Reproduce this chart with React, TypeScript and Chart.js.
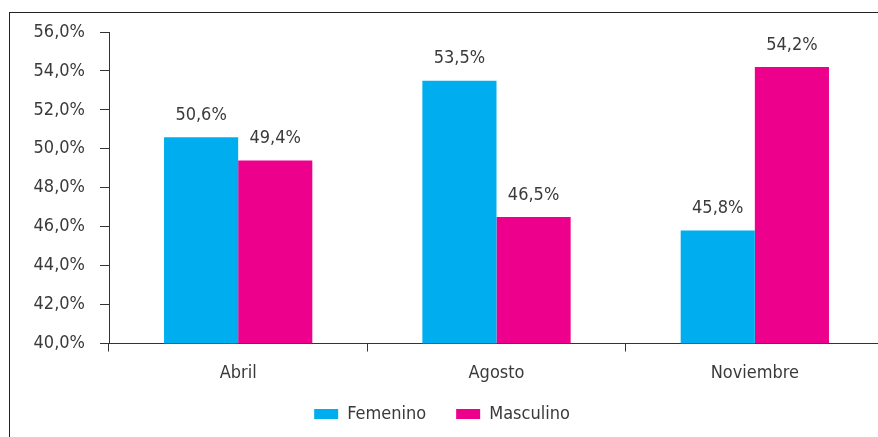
import React, { useEffect, useRef } from "react";
import { Chart, registerables } from "chart.js";

Chart.register(...registerables);

const categories = ["Abril", "Agosto", "Noviembre"];
const femenino = [50.6, 53.5, 45.8];
const masculino = [49.4, 46.5, 54.2];
const seriesNames = ["Femenino", "Masculino"];
const yMin = 40;
const yMax = 56;
const yStep = 2;

const FONT = "'Liberation Sans Narrow', 'DejaVu Sans Condensed', 'Roboto Condensed', sans-serif";
const FS = 18;
const TEXT = "#3a3a3a";
const AXIS = "#333333";
const LEG_PAD = 30;

const fmt = (v: number) => v.toFixed(1).replace(".", ",") + "%";

const valueLabels = {
  id: "valueLabels",
  afterLayout(chart: any) {
    const x = chart.scales.x;
    if (x) x.bottom = x.top + 60;
  },
  afterDatasetsDraw(chart: any) {
    const ctx = chart.ctx;
    ctx.save();
    ctx.font = `${FS}px ${FONT}`;
    ctx.fillStyle = TEXT;
    ctx.textAlign = "center";
    ctx.textBaseline = "middle";
    chart.data.datasets.forEach((ds: any, i: number) => {
      const meta = chart.getDatasetMeta(i);
      meta.data.forEach((bar: any, j: number) => {
        ctx.fillText(fmt(ds.data[j]), bar.x, bar.y - 22);
      });
    });
    ctx.restore();
  },
};

export default function App() {
  const ref = useRef<HTMLCanvasElement>(null);
  useEffect(() => {
    if (!ref.current) return;
    const chart = new Chart(ref.current, {
      type: "bar",
      data: {
        labels: categories,
        datasets: [
          { label: seriesNames[0], data: femenino, backgroundColor: "#00AEEF", categoryPercentage: 0.574, barPercentage: 1 },
          { label: seriesNames[1], data: masculino, backgroundColor: "#EC008C", categoryPercentage: 0.574, barPercentage: 1 },
        ],
      },
      options: {
        animation: false,
        responsive: false,
        maintainAspectRatio: false,
        layout: { padding: { top: 32, right: 16, bottom: 4, left: 0 } },
        plugins: {
          tooltip: { enabled: false },
          legend: {
            position: "bottom",
            labels: {
              boxWidth: 24,
              boxHeight: 10,
              padding: LEG_PAD,
              color: TEXT,
              font: { family: FONT, size: FS },
            },
          },
        },
        scales: {
          x: {
            offset: true,
            grid: { offset: true, drawOnChartArea: false, tickLength: 8, color: AXIS },
            border: { color: AXIS, width: 1 },
            ticks: { color: TEXT, padding: 11, font: { family: FONT, size: FS } },
            afterFit: (s: any) => { s.height = 51.5 - (LEG_PAD - 11) - 1; },
          },
          y: {
            min: yMin,
            max: yMax,
            grid: { drawOnChartArea: false, tickLength: 9, color: AXIS },
            border: { color: AXIS, width: 1 },
            ticks: {
              stepSize: yStep,
              color: TEXT,
              padding: 15,
              font: { family: FONT, size: FS },
              callback: (v: any) => fmt(Number(v)),
            },
            afterFit: (s: any) => { s.width = 109; },
          },
        },
      },
      plugins: [valueLabels],
    });
    return () => chart.destroy();
  }, []);
  return (
    <div style={{ position: "fixed", left: 0, top: 0, width: 878, height: 437, overflow: "hidden", background: "#fff" }}>
      <div style={{ position: "absolute", left: 9, top: 12, width: 900, height: 500, borderTop: "1px solid #222", borderLeft: "1px solid #222" }} />
      <canvas ref={ref} width={900} height={437} style={{ position: "absolute", left: 0, top: 0 }} />
    </div>
  );
}
